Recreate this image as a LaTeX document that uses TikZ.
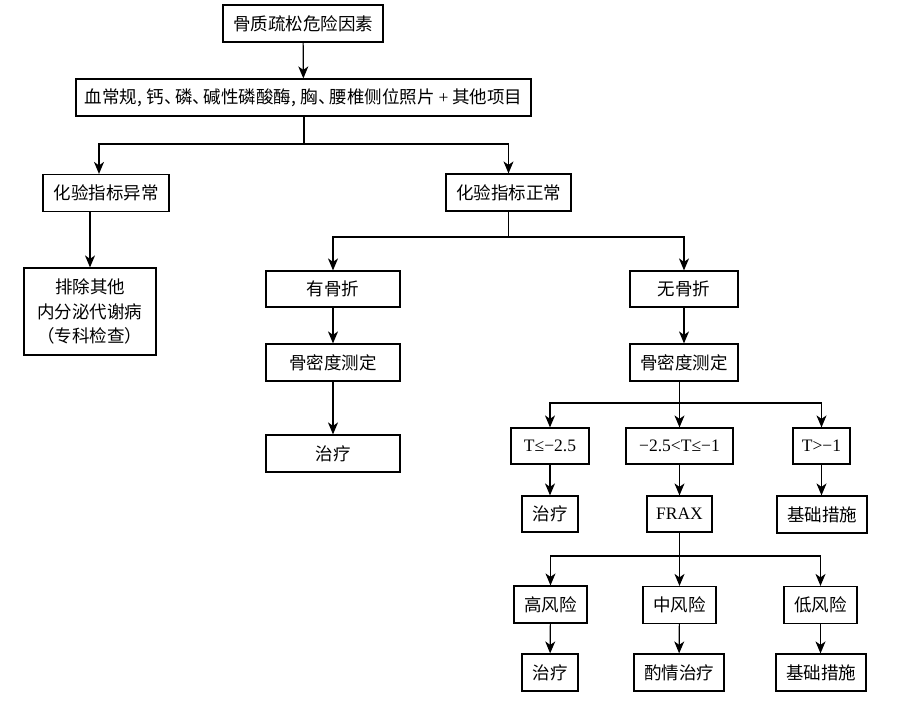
\documentclass[tikz,border=0pt]{standalone}
\usepackage{fontspec}
\setmainfont{Noto Sans CJK SC}
\newfontfamily\lat{Liberation Serif}
\usetikzlibrary{arrows.meta}
\newcommand{\dn}{、\kern-0.36em}
\newcommand{\cm}{,\kern0.26em}
\begin{document}
\begin{tikzpicture}[x=1pt,y=-1pt,
  box/.style={draw, line width=1.2pt, inner sep=0pt, align=center,
    font=\fontsize{17.5}{24.5}\selectfont, minimum height=37pt},
  ln/.style={line width=1.2pt},
  arr/.style={ln, -{Stealth[length=12pt,width=10pt,inset=3.5pt]}}]
\fill[white] (0,0) rectangle (900,705);
\useasboundingbox (0,0) rectangle (900,705);
% boxes
\node[box, minimum width=160pt] (b1) at (303,23.5) {骨质疏松危险因素};
\node[box, minimum width=455pt] (b2) at (303.5,97.5) {血常规\cm 钙\dn 磷\dn 碱性磷酸酶\cm 胸\dn 腰椎侧位照片 {\lat +} 其他项目};
\node[box, minimum width=126pt] (b3) at (106,193) {化验指标异常};
\node[box, minimum width=125pt] (b4) at (508.5,192.5) {化验指标正常};
\node[box, minimum width=132pt, minimum height=87pt] (b5) at (90,311.5) {排除其他\\内分泌代谢病\\（专科检查）};
\node[box, minimum width=134pt, minimum height=36pt] (b6) at (333,289) {有骨折};
\node[box, minimum width=134pt] (b7) at (333,362.5) {骨密度测定};
\node[box, minimum width=134pt] (b8) at (333,453.5) {治疗};
\node[box, minimum width=108pt, minimum height=36pt] (b9) at (684,289) {无骨折};
\node[box, minimum width=108pt] (b10) at (684,362.5) {骨密度测定};
\node[box, minimum width=78pt, minimum height=36pt] (b11) at (550,446) {\lat T≤−2.5};
\node[box, minimum width=107pt, minimum height=36pt] (b12) at (679.5,446) {\lat −2.5<T≤−1};
\node[box, minimum width=57pt, minimum height=36pt] (b13) at (821.5,446) {\lat T>−1};
\node[box, minimum width=56pt, minimum height=36pt] (b14) at (550,514) {治疗};
\node[box, minimum width=65pt, minimum height=36pt] (b15) at (679.5,514) {\lat FRAX};
\node[box, minimum width=90pt] (b16) at (822,514.5) {基础措施};
\node[box, minimum width=73pt] (b17) at (550.5,604.5) {高风险};
\node[box, minimum width=73pt] (b18) at (679.5,605) {中风险};
\node[box, minimum width=73pt] (b19) at (820.5,605) {低风险};
\node[box, minimum width=56pt] (b20) at (550,672.5) {治疗};
\node[box, minimum width=90pt] (b21) at (679,672.5) {酌情治疗};
\node[box, minimum width=90pt] (b22) at (821,672.5) {基础措施};
% junction points
\coordinate (j1) at (304,144);
\coordinate (j1l) at (99,144);
\coordinate (j2) at (508.5,237);
\coordinate (j3) at (679.5,403);
\coordinate (j4) at (679.5,556);
% connectors
\draw[arr] (b1) -- (b2);
\draw[ln] (b2.south -| j1) -- (j1);
\draw[arr] (j1) -- (j1l) -- (j1l |- b3.north);
\draw[arr] (j1) -| (b4.north);
\draw[arr] (b3.south -| b5.north) -- (b5.north);
\draw[ln] (b4.south) -- (j2);
\draw[arr] (j2) -| (b6.north);
\draw[arr] (j2) -| (b9.north);
\draw[arr] (b6) -- (b7);
\draw[arr] (b7) -- (b8);
\draw[arr] (b9) -- (b10);
\draw[ln] (b10.south -| j3) -- (j3);
\draw[arr] (j3) -| (b11.north);
\draw[arr] (j3) -- (b12.north);
\draw[arr] (j3) -| (b13.north);
\draw[arr] (b11) -- (b14);
\draw[arr] (b12) -- (b15);
\draw[arr] (b13.south) -- (b13.south |- b16.north);
\draw[ln] (b15.south) -- (j4);
\draw[arr] (j4) -| (b17.north);
\draw[arr] (j4) -- (b18.north);
\draw[arr] (j4) -| (b19.north);
\draw[arr] (b17) -- (b20);
\draw[arr] (b18) -- (b21);
\draw[arr] (b19.south) -- (b19.south |- b22.north);
\end{tikzpicture}
\end{document}
